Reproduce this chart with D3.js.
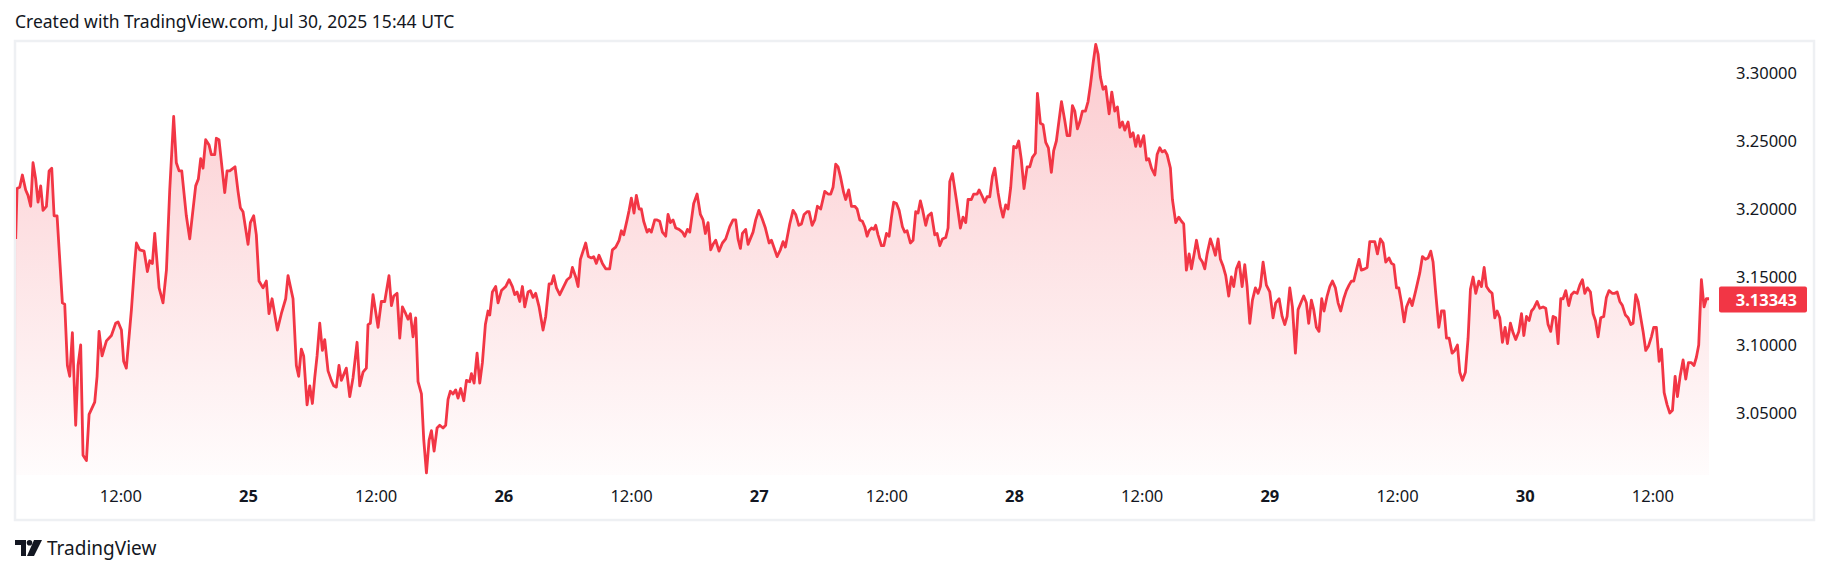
<!DOCTYPE html>
<html><head><meta charset="utf-8">
<script src="https://cdn.jsdelivr.net/npm/d3@7/dist/d3.min.js"></script>
<style>body{margin:0;background:#fff}svg{display:block;font-family:"Noto Sans",sans-serif}</style>
</head><body><svg id="c" width="1830" height="574"></svg>
<script>
// hours since 2025-07-24 00:00 UTC
const hours = [2.16,2.29,2.54,2.79,3.10,3.32,3.57,3.79,4.04,4.26,4.51,4.73,5.05,5.30,5.55,5.77,6.05,6.55,6.77,7.02,7.24,7.49,7.80,8.02,8.27,8.49,8.81,9.06,9.59,9.81,10.0,10.28,10.69,11.16,11.56,11.78,12.1,12.31,12.56,13.04,13.35,13.51,13.82,14.23,14.54,14.76,15.01,15.23,15.64,16.01,16.33,16.64,17.01,17.26,17.52,17.77,18.2,18.52,19.08,19.33,19.55,19.77,20.02,20.34,20.55,20.87,21.02,21.27,21.81,22.03,22.28,22.78,23.06,23.28,23.53,24.0,24.22,24.53,24.78,25.03,25.41,25.72,25.97,26.26,26.76,27.13,27.54,27.76,28.23,28.54,28.76,29.01,29.23,29.55,29.8,30.05,30.27,30.49,30.74,30.99,31.21,31.52,31.83,32.05,32.3,32.55,32.77,33.24,33.56,33.87,34.25,34.5,34.81,35.12,35.28,35.5,35.75,36.22,36.53,36.85,37.25,
37.48,37.7,38.01,38.26,38.51,38.82,39.04,39.26,39.51,39.76,39.98,40.3,40.52,40.77,41.02,41.24,41.49,41.77,42.02,42.33,42.58,42.8,43.02,43.27,43.52,43.74,43.99,44.28,44.53,44.84,45.0,45.25,45.53,45.78,46.03,46.31,46.56,46.72,46.97,47.28,47.5,47.82,48.22,48.54,48.85,49.07,49.29,49.54,49.79,50.01,50.32,50.54,50.79,51.04,51.36,51.73,51.98,52.3,52.52,52.73,52.99,53.3,53.61,53.99,54.3,54.49,54.8,55.02,55.24,55.49,55.74,55.99,56.27,56.49,56.74,56.99,57.31,57.62,57.99,58.25,58.56,58.88,59.09,59.31,59.63,59.82,60.03,60.28,60.5,60.76,60.97,61.19,61.51,61.7,61.91,62.23,62.45,62.7,62.95,63.26,63.48,63.7,63.95,64.2,64.51,64.83,65.05,65.3,65.52,65.89,66.21,66.52,66.77,66.99,67.24,67.49,67.71,67.96,68.27,68.59,68.9,69.28,
69.59,69.84,70.06,70.28,70.47,70.78,71.0,71.47,71.72,72.01,72.32,72.63,72.98,73.2,73.51,73.73,74.04,74.29,74.51,74.92,75.23,75.48,75.77,76.02,76.27,76.55,76.74,77.02,77.27,77.52,77.83,78.21,78.52,78.77,78.99,79.24,79.46,79.68,79.99,80.18,80.46,80.72,81.03,81.25,81.5,81.75,81.97,82.19,82.38,82.6,82.81,83.0,83.22,83.54,83.76,84.01,84.26,84.48,84.69,84.95,85.2,85.51,85.73,85.95,86.26,86.51,86.76,86.98,87.2,87.39,87.7,87.92,88.23,88.55,88.77,89.02,89.27,89.58,89.8,89.96,90.21,90.58,90.96,91.21,91.46,91.68,91.99,92.21,92.53,92.72,93.03,93.25,93.47,93.72,93.97,94.19,94.5,94.72,94.97,95.22,95.44,95.69,95.97,96.22,96.44,96.69,96.94,97.23,97.48,97.73,98.01,98.2,98.48,98.73,98.98,99.23,99.51,99.73,99.98,
100.46,100.77,100.99,101.24,101.49,101.71,101.96,102.18,102.43,102.71,102.96,103.18,103.43,103.68,103.9,104.12,104.37,104.62,104.94,105.19,105.47,105.72,105.94,106.19,106.41,106.72,106.94,107.19,107.44,107.66,107.88,108.19,108.45,108.67,108.92,109.23,109.45,109.7,109.92,110.17,110.39,110.7,110.89,111.2,111.48,111.74,111.95,112.2,112.46,112.68,112.93,113.15,113.46,113.71,113.93,114.15,114.46,114.71,114.93,115.18,115.4,115.65,115.9,116.18,116.43,116.65,116.9,117.16,117.44,117.69,117.91,118.16,118.41,118.69,118.94,119.16,119.41,119.72,120.04,120.35,120.6,120.92,121.2,121.45,121.67,121.92,122.17,122.45,122.7,123.01,123.23,123.48,123.7,123.95,124.17,124.42,124.67,124.92,125.14,125.43,125.68,125.93,126.21,126.46,126.71,126.99,127.24,127.49,127.71,127.93,128.18,128.43,128.65,128.97,129.19,129.44,129.75,129.91,130.16,130.44,130.69,130.94,131.25,
131.48,131.7,131.95,132.17,132.42,132.67,132.89,133.2,133.42,133.76,134.14,134.39,134.67,134.92,135.17,135.39,135.64,135.93,136.18,136.43,136.65,136.9,137.18,137.43,137.68,137.9,138.15,138.43,138.68,138.9,139.15,139.4,139.69,139.94,140.19,140.41,140.66,140.94,141.19,141.41,141.66,141.91,142.16,142.38,142.66,142.91,143.16,143.45,143.7,143.92,144.17,144.42,144.64,144.85,145.17,145.42,145.73,145.98,146.2,146.45,146.67,146.92,147.14,147.39,147.61,147.86,148.14,148.39,148.64,148.93,149.18,149.43,149.65,149.9,150.18,150.43,150.65,150.9,151.15,151.43,151.68,151.93,152.22,152.47,152.69,152.94,153.19,153.47,153.72,153.97,154.19,154.44,154.66,154.91,155.13,155.38,155.63,155.91,156.13,156.38,156.64,156.86,157.11,157.39,157.64,157.89,158.14,158.36,158.61,158.89,159.14,159.39,159.67,159.92,160.14,160.36,160.61,160.86,161.08,161.33];
const prices = [3.178,3.215,3.216,3.225,3.214,3.210,3.202,3.234,3.222,3.205,3.217,3.199,3.202,3.228,3.230,3.195,3.195,3.131,3.130,3.085,3.077,3.109,3.041,3.085,3.100,3.019,3.015,3.049,3.058,3.077,3.110,3.092,3.103,3.107,3.116,3.117,3.111,3.088,3.083,3.126,3.160,3.175,3.170,3.169,3.154,3.162,3.160,3.182,3.142,3.131,3.155,3.214,3.268,3.234,3.228,3.228,3.195,3.178,3.217,3.222,3.237,3.230,3.251,3.247,3.240,3.240,3.252,3.251,3.212,3.228,3.228,3.231,3.213,3.201,3.198,3.174,3.190,3.195,3.181,3.147,3.142,3.147,3.123,3.134,3.111,3.123,3.134,3.151,3.134,3.085,3.077,3.097,3.092,3.056,3.070,3.057,3.076,3.092,3.116,3.096,3.104,3.081,3.074,3.070,3.069,3.085,3.074,3.083,3.062,3.076,3.102,3.070,3.080,3.083,3.115,3.116,3.137,3.113,3.132,3.132,3.151,
3.129,3.136,3.138,3.105,3.128,3.123,3.119,3.123,3.106,3.120,3.073,3.064,3.030,3.006,3.030,3.037,3.022,3.039,3.041,3.039,3.041,3.060,3.066,3.064,3.067,3.061,3.068,3.059,3.074,3.073,3.079,3.072,3.094,3.072,3.087,3.115,3.125,3.122,3.139,3.143,3.131,3.140,3.143,3.148,3.143,3.137,3.139,3.132,3.143,3.128,3.139,3.140,3.135,3.138,3.128,3.111,3.121,3.145,3.145,3.151,3.142,3.137,3.142,3.148,3.150,3.157,3.150,3.143,3.163,3.169,3.175,3.165,3.164,3.165,3.160,3.166,3.160,3.156,3.156,3.170,3.172,3.177,3.184,3.181,3.192,3.199,3.208,3.197,3.210,3.200,3.200,3.191,3.183,3.185,3.183,3.192,3.192,3.191,3.183,3.180,3.196,3.190,3.192,3.186,3.185,3.183,3.180,3.185,3.183,3.204,3.211,3.196,3.192,3.182,3.190,3.170,3.174,3.177,3.169,3.175,3.178,3.187,
3.192,3.192,3.178,3.171,3.182,3.185,3.174,3.183,3.192,3.199,3.193,3.186,3.175,3.177,3.170,3.165,3.170,3.176,3.172,3.189,3.199,3.196,3.188,3.189,3.196,3.198,3.198,3.188,3.192,3.202,3.200,3.213,3.211,3.211,3.216,3.233,3.231,3.224,3.212,3.207,3.214,3.202,3.202,3.200,3.192,3.191,3.187,3.180,3.184,3.186,3.185,3.188,3.181,3.173,3.173,3.182,3.180,3.194,3.205,3.204,3.199,3.187,3.183,3.184,3.175,3.177,3.198,3.197,3.206,3.200,3.188,3.195,3.197,3.181,3.182,3.173,3.178,3.179,3.186,3.220,3.226,3.207,3.186,3.194,3.190,3.207,3.207,3.211,3.211,3.214,3.209,3.205,3.209,3.209,3.224,3.230,3.212,3.202,3.194,3.203,3.200,3.216,3.246,3.245,3.250,3.236,3.215,3.231,3.231,3.238,3.241,3.285,3.263,3.262,3.249,3.245,3.227,3.243,3.250,
3.279,3.265,3.254,3.254,3.276,3.272,3.259,3.264,3.272,3.272,3.279,3.291,3.307,3.321,3.314,3.297,3.288,3.290,3.270,3.286,3.272,3.275,3.260,3.264,3.258,3.264,3.253,3.256,3.246,3.254,3.246,3.254,3.236,3.237,3.230,3.225,3.240,3.245,3.242,3.243,3.240,3.230,3.207,3.190,3.194,3.191,3.189,3.155,3.167,3.156,3.167,3.177,3.164,3.161,3.156,3.167,3.178,3.172,3.166,3.178,3.163,3.158,3.151,3.136,3.150,3.143,3.156,3.161,3.143,3.159,3.143,3.116,3.133,3.142,3.138,3.143,3.161,3.144,3.139,3.120,3.131,3.134,3.121,3.115,3.121,3.142,3.128,3.094,3.126,3.132,3.136,3.131,3.116,3.133,3.126,3.113,3.110,3.134,3.125,3.136,3.143,3.147,3.142,3.131,3.125,3.134,3.140,3.144,3.147,3.147,3.155,3.163,3.155,3.156,3.157,3.176,3.176,3.176,3.167,3.178,3.175,3.161,3.164,
3.160,3.159,3.142,3.142,3.131,3.117,3.128,3.134,3.129,3.140,3.153,3.165,3.163,3.164,3.169,3.161,3.138,3.113,3.125,3.125,3.105,3.105,3.094,3.096,3.100,3.080,3.074,3.080,3.105,3.141,3.150,3.138,3.147,3.143,3.157,3.143,3.140,3.138,3.120,3.125,3.120,3.102,3.113,3.101,3.116,3.109,3.104,3.110,3.123,3.107,3.121,3.118,3.125,3.127,3.132,3.127,3.128,3.127,3.115,3.110,3.121,3.120,3.101,3.134,3.134,3.140,3.129,3.137,3.139,3.138,3.144,3.148,3.138,3.142,3.139,3.123,3.118,3.106,3.120,3.121,3.135,3.140,3.138,3.138,3.139,3.132,3.129,3.122,3.120,3.115,3.116,3.137,3.132,3.120,3.110,3.096,3.099,3.106,3.113,3.113,3.088,3.097,3.065,3.056,3.050,3.052,3.077,3.062,3.077,3.089,3.075,3.087,3.087,3.085,3.091,3.100,3.148,3.128,3.134,3.134];
const lastPrice = "3.13343";
const priceTicks = [3.05,3.10,3.15,3.20,3.25,3.30];
const timeTicks = [12,24,36,48,60,72,84,96,108,120,132,144,156];
const dayLabels = {24:"25",48:"26",72:"27",96:"28",120:"29",144:"30"};
const title = "Created with TradingView.com, Jul 30, 2025 15:44 UTC";

const data = hours.map((h,i)=>({h, v:prices[i]}));
const svg = d3.select("#c");
const RED = "#f23645";
const x = d3.scaleLinear().domain([0,160]).range([-7.3, 1694.9]);
const y = d3.scaleLinear().domain([3.05,3.30]).range([413,73]);
const bottomY = 475;

svg.append("text").attr("x",15).attr("y",28).attr("font-size",17.5).attr("fill","#131722").text(title);
svg.append("rect").attr("x",15).attr("y",41).attr("width",1799).attr("height",479)
  .attr("fill","none").attr("stroke","#eef0f3").attr("stroke-width",2.5);

const defs = svg.append("defs");
const g = defs.append("linearGradient").attr("id","fill")
  .attr("gradientUnits","userSpaceOnUse").attr("x1",0).attr("y1",y(3.32)).attr("x2",0).attr("y2",bottomY);
g.append("stop").attr("offset",0).attr("stop-color",RED).attr("stop-opacity",0.26);
g.append("stop").attr("offset",1).attr("stop-color",RED).attr("stop-opacity",0.015);
defs.append("clipPath").attr("id","clip").append("rect").attr("x",16).attr("y",42).attr("width",1700).attr("height",477);

const pg = svg.append("g").attr("clip-path","url(#clip)");
pg.append("path").datum(data).attr("fill","url(#fill)")
  .attr("d", d3.area().x(d=>x(d.h)).y0(bottomY).y1(d=>y(d.v)));
pg.append("path").datum(data).attr("fill","none").attr("stroke",RED).attr("stroke-width",2.8)
  .attr("stroke-linejoin","round").attr("d", d3.line().x(d=>x(d.h)).y(d=>y(d.v)));

// y axis
const ya = svg.append("g").attr("transform","translate(1797,0)")
  .call(d3.axisRight(y).tickValues(priceTicks).tickSize(0).tickPadding(0).tickFormat(d3.format(".5f")));
ya.select(".domain").remove();
ya.selectAll("text").attr("text-anchor","end").attr("font-size",16.5).attr("fill","#131722").attr("font-family","Noto Sans");

// x axis
const xa = svg.append("g").attr("transform","translate(0,490)")
  .call(d3.axisBottom(x).tickValues(timeTicks).tickSize(0).tickPadding(0)
    .tickFormat(h => dayLabels[h] || "12:00"));
xa.select(".domain").remove();
xa.selectAll("text").attr("font-size",16.5).attr("fill","#131722").attr("font-family","Noto Sans")
  .attr("font-weight", h => dayLabels[h] ? "bold" : "normal");

// last price label
const ly = y(+lastPrice);
svg.append("rect").attr("x",1719).attr("y",ly-13).attr("width",88).attr("height",26).attr("rx",2).attr("fill",RED);
svg.append("text").attr("x",1797).attr("y",ly+6).attr("text-anchor","end").attr("font-size",16.5)
  .attr("font-weight","bold").attr("fill","#fff").text(lastPrice);

// logo
const lg = svg.append("g").attr("transform","translate(15,540)");
lg.append("path").attr("d","M0 0 H11 V16 H6 V5 H0 Z").attr("fill","#131722");
lg.append("circle").attr("cx",14.5).attr("cy",2.8).attr("r",2.8).attr("fill","#131722");
lg.append("path").attr("d","M19 0 H27 L19 16 H12 Z").attr("fill","#131722");
svg.append("text").attr("x",47).attr("y",555).attr("font-size",19).attr("fill","#131722").text("TradingView");
</script></body></html>
